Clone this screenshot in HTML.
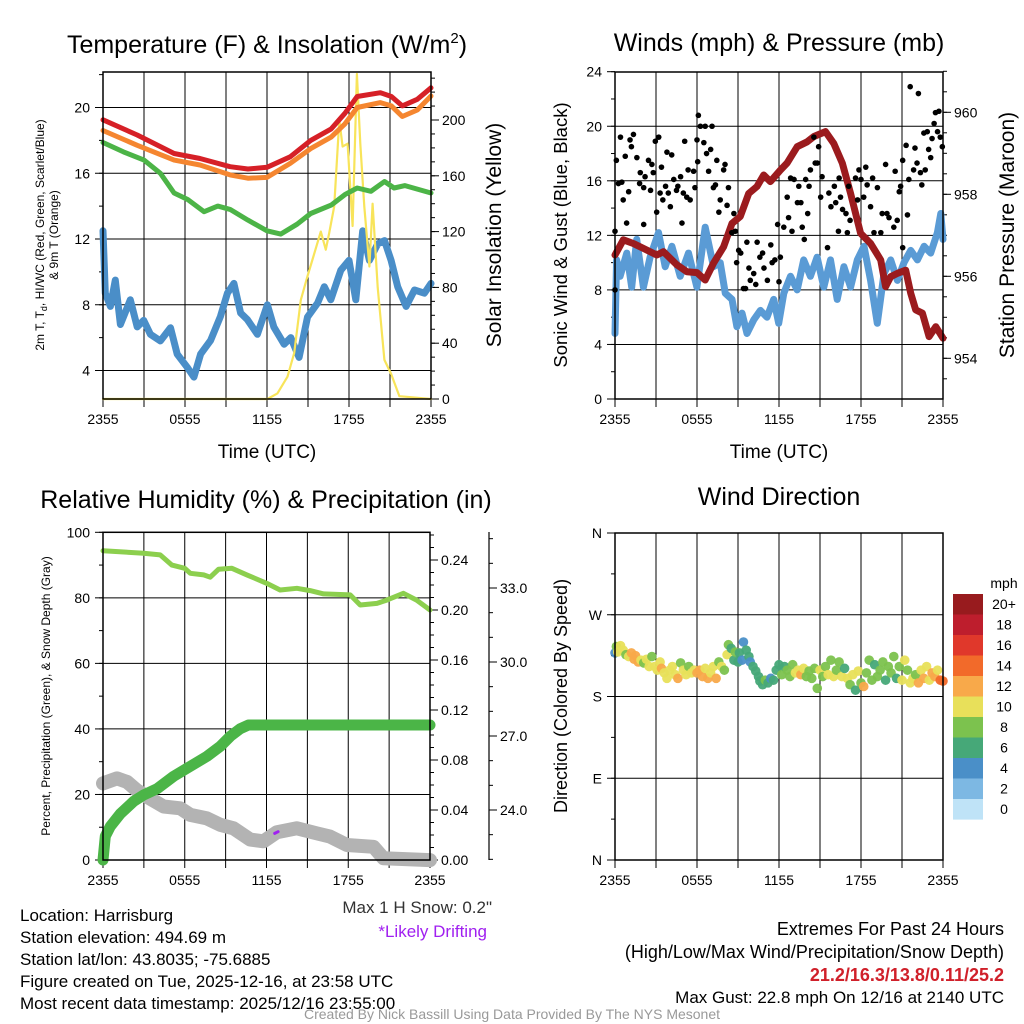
<!DOCTYPE html>
<html><head><meta charset="utf-8"><style>
html,body{margin:0;padding:0;background:#fff;}
svg{display:block;font-family:"Liberation Sans",sans-serif;}
</style></head><body>
<svg id="s" width="1024" height="1024" viewBox="0 0 1024 1024"></svg>
<script>
// ---------- DATA ----------
const xTickLabels = ["2355","0555","1155","1755","2355"];
// Temperature panel
const redHours = [0,2.5,5.2,7.1,9.3,10.6,12.0,13.7,15.2,16.7,17.7,18.6,20.3,21.1,21.9,23.0,24];
const redTemp = [19.25,18.33,17.2,16.9,16.4,16.26,16.36,17.0,18.0,18.7,19.65,20.67,20.9,20.67,20.1,20.5,21.2];
const orangeTemp = [18.6,17.7,16.8,16.5,15.9,15.7,15.75,16.6,17.5,18.2,19.0,20.0,20.3,20.1,19.45,19.85,20.7];
const greenHours = [0,1.5,3.0,4.2,5.2,6.2,7.4,8.4,9.3,10.6,12.0,13.0,14.2,15.2,16.7,17.7,18.6,19.6,20.6,21.3,22.1,24];
const greenDew = [17.87,17.3,16.8,16.0,14.8,14.4,13.66,14.0,13.8,13.15,12.5,12.3,12.9,13.55,14.06,14.7,15.1,14.9,15.5,15.1,15.25,14.8];
const blueHours = [0,0.17,0.54,0.9,1.27,2.0,2.5,2.98,3.47,4.2,4.94,5.43,6.16,6.65,7.14,7.87,8.6,9.1,9.58,10.07,10.56,11.3,12.03,12.5,13.25,13.74,14.35,14.96,15.7,16.19,16.67,17.4,18.0,18.5,19.0,19.49,20.1,20.6,21.08,21.56,22.18,22.79,23.52,24];
const blueWindChill = [12.5,8.7,7.9,9.5,6.8,8.3,6.65,7.05,6.2,5.8,6.6,5.0,4.2,3.6,5.0,5.83,7.3,8.7,9.3,7.5,7.1,6.2,8.0,6.65,5.6,6.0,4.8,7.25,8.1,9.1,8.3,10.1,10.7,8.3,12.5,10.7,11.7,11.9,10.7,9.1,7.9,8.9,8.7,9.3];
const solarHours = [0,12.03,12.76,13.5,13.99,14.47,14.96,15.33,15.94,16.3,16.55,16.92,17.29,17.53,17.9,18.26,18.58,18.83,19.12,19.49,19.73,20.1,20.59,21.08,21.69,24];
const solarVals = [0,0,4,16,33,71,88,100,120,107,119,138,200,181,183,124,233,183,138,95,140,80,28,18,2,0];
// Winds panel
const windHours = [0,0.12,0.37,0.86,1.22,1.59,2.08,2.57,3.18,3.67,4.16,4.77,5.38,5.99,6.6,7.21,7.7,8.07,8.56,8.92,9.29,9.66,10.15,10.64,11.12,11.61,11.98,12.35,12.84,13.33,13.81,14.3,14.79,15.28,15.77,16.26,16.75,17.24,17.73,18.22,18.7,19.19,19.68,20.17,20.66,21.15,21.64,22.13,22.62,23.1,23.59,23.84,24];
const windSpeed = [4.8,10.2,9.0,10.7,8.2,11.7,8.2,10.4,12.2,9.7,11.2,9.0,10.7,8.2,12.6,9.7,10.0,7.75,7.3,5.3,6.3,4.8,5.8,6.5,6.0,7.3,5.55,7.75,9.0,8.0,10.2,9.0,10.4,8.2,10.2,7.3,9.7,8.2,10.2,11.2,8.7,5.55,9.2,10.2,8.7,10.0,10.9,10.2,11.2,10.7,12.2,13.6,11.7];
const gustHours = [0,0,0.1,0.25,0.4,0.5,0.6,0.75,0.85,1,1.1,1.2,1.35,1.6,1.8,1.85,2.1,2.1,2.2,2.45,2.6,2.7,2.8,2.95,3.05,3.2,3.3,3.4,3.5,3.7,3.8,3.9,4.05,4.15,4.3,4.5,4.6,4.8,4.9,5.0,5.1,5.25,5.35,5.5,5.75,5.85,6,6.05,6.1,6.25,6.5,6.6,6.7,6.85,7,7.1,7.2,7.35,7.45,7.6,7.7,7.95,8.05,8.2,8.3,8.55,8.7,8.8,8.9,9.05,9.2,9.4,9.55,9.65,9.8,9.9,10.15,10.3,10.4,10.6,10.8,10.9,11.15,11.4,11.5,11.7,11.9,12.0,12.1,12.35,12.6,12.7,12.85,12.95,13.1,13.35,13.45,13.6,13.7,13.85,13.95,14.1,14.2,14.3,14.55,14.65,14.8,14.9,15.05,15.15,15.55,15.65,15.8,16.05,16.15,16.35,16.4,16.5,16.65,16.9,17.0,17.1,17.2,17.6,17.75,17.85,18.0,18.2,18.35,18.45,18.7,18.85,18.95,19.2,19.45,19.55,19.8,19.9,20.05,20.4,20.5,20.65,20.8,20.9,21.05,21.05,21.3,21.4,21.5,21.6,21.85,21.95,22.1,22.2,22.35,22.45,22.6,22.7,22.85,22.95,23.1,23.2,23.35,23.45,23.6,23.7,23.8,23.95];
const gustSpeed = [8.0,12.3,17.5,15.8,19.2,15.9,14.6,17.8,12.9,15.2,19.0,18.5,19.4,17.7,15.8,16.6,15.5,12.8,16.3,17.5,15.3,17.2,16.6,18.9,13.7,19.2,15.1,17.0,14.6,15.6,18.1,15.1,14.1,17.9,16.1,15.3,15.6,16.3,12.9,15.1,18.9,14.8,16.8,14.6,16.7,15.5,19.0,17.4,20.8,20.0,18.8,20.0,18.0,16.7,18.3,20.0,15.5,15.7,17.5,13.7,14.6,16.8,17.2,14.2,15.5,12.2,13.6,12.3,10.0,10.9,10.7,8.1,8.1,11.5,9.6,8.7,9.2,8.4,11.5,10.4,10.7,9.6,8.7,11.3,10.0,10.2,12.8,8.6,10.4,12.6,14.8,13.3,16.2,12.3,16.1,14.4,15.6,14.4,12.6,11.7,16.1,13.6,15.6,16.8,19.2,17.3,17.3,18.5,14.8,16.3,11.1,15.1,14.1,15.6,14.4,12.3,16.2,14.8,13.9,13.6,12.2,15.6,13.1,16.2,14.6,16.8,16.1,14.8,17.0,15.7,14.1,16.2,12.2,15.5,12.2,13.6,17.2,13.6,13.3,12.6,16.7,13.1,15.2,15.6,17.5,11.1,18.6,13.5,16.1,22.9,16.8,18.4,17.3,22.4,16.6,15.7,19.5,16.8,19.6,18.3,17.7,19.1,20.2,21.0,19.6,21.1,19.2,18.5];
const presHours = [0,0.61,1.34,2.08,3.06,3.55,4.52,5.26,5.99,6.6,7.21,7.95,8.56,9.17,9.78,10.39,10.88,11.37,12.1,12.59,13.33,14.06,14.55,15.4,16.01,16.63,17.24,17.97,18.7,19.44,19.8,20.17,20.66,21.27,21.64,22.0,22.49,22.98,23.47,24];
const presVals = [956.52,956.89,956.8,956.68,956.52,956.6,956.28,956.11,956.09,955.91,956.32,956.72,957.29,957.46,958.02,958.19,958.47,958.31,958.59,958.76,959.16,959.28,959.41,959.53,959.24,958.76,958.02,957.05,956.8,956.4,955.75,955.99,956.07,956.15,955.59,955.18,955.1,954.53,954.77,954.49];
// RH / precip / snow panel
const rhHours = [0,2.98,4.2,5.06,6.0,6.41,7.39,7.87,8.48,9.46,10.56,12.03,13.0,14.23,15.2,16.19,18.14,18.88,20.1,20.83,22.05,23.02,24];
const rhVals = [94.4,93.6,93.1,90,89,87.5,87,86.3,88.7,89,87,84.4,82.4,82.9,82.2,81.2,80.9,77.8,78.3,79.3,81.4,79.3,76.3];
const precipHours = [0,0.17,0.54,1.27,2.25,2.98,3.96,5.18,6.41,7.63,8.61,9.34,10.07,10.68,24];
const precipVals = [0,0.019,0.027,0.037,0.047,0.052,0.057,0.067,0.075,0.083,0.091,0.099,0.105,0.108,0.108];
const snowHours = [0,1.03,1.76,2.49,3.47,4.45,5.67,6.41,7.63,8.61,9.58,10.8,11.78,12.76,14.23,15.7,16.67,17.9,19.85,20.59,24];
const snowVals = [25.08,25.28,25.14,24.8,24.46,24.14,24.07,23.8,23.66,23.4,23.26,22.8,22.73,23.1,23.26,23.05,22.92,22.58,22.51,22.04,21.97];
const driftHours = [12.6,12.85];
const driftVals = [23.05,23.12];
// Wind direction panel
const dirHours = [0,0.1,0.2,0.4,0.6,0.8,1.0,1.2,1.4,1.5,1.7,1.9,2.1,2.3,2.5,2.7,2.9,3.1,3.3,3.4,3.6,3.8,4.0,4.2,4.4,4.6,4.8,5.0,5.2,5.4,5.6,5.8,6.0,6.2,6.4,6.6,6.8,7.0,7.2,7.4,7.6,7.8,8.0,8.2,8.3,8.5,8.7,8.8,9.0,9.1,9.3,9.4,9.6,9.8,9.9,10.1,10.3,10.5,10.6,10.8,11.0,11.2,11.4,11.6,11.8,12.0,12.2,12.4,12.6,12.8,13.0,13.2,13.4,13.6,13.8,14.0,14.2,14.4,14.6,14.8,15.0,15.2,15.4,15.6,15.8,16.0,16.2,16.4,16.6,16.8,17.0,17.2,17.4,17.6,17.8,18.0,18.2,18.4,18.6,18.8,19.0,19.2,19.4,19.6,19.8,20.0,20.2,20.4,20.6,20.8,21.0,21.2,21.4,21.6,21.8,22.0,22.2,22.4,22.6,22.8,23.0,23.2,23.4,23.6,23.8,24.0];
const dirDeg = [228,235,229,236,231,226,224,228,221,225,218,220,217,221,213,224,213,209,218,211,206,200,209,213,204,200,217,209,204,213,206,209,206,209,202,211,200,206,213,200,218,213,209,226,237,233,220,229,218,228,220,240,231,224,218,213,208,202,197,193,198,195,200,198,209,215,204,213,209,202,215,206,209,204,211,202,208,200,211,189,209,202,213,204,220,202,209,218,202,211,200,193,204,187,208,195,191,206,220,198,215,202,209,218,198,213,206,224,200,213,198,220,209,195,200,204,195,209,200,213,198,206,202,209,198,197];
const dirSpeed = [4,9,10,10,10,9,10,12,12,13,12,10,9,10,10,8,10,10,11,12,10,10,10,11,10,12,8,10,10,9,10,10,12,12,13,11,12,11,10,12,8,10,8,10,8,7,7,8,7,7,4,4,6,6,5,6,6,6,7,6,8,6,5,7,7,7,9,7,9,9,8,10,10,12,10,9,9,9,8,8,10,9,8,10,8,10,8,8,10,6,10,8,10,7,10,8,13,9,8,8,7,8,9,8,7,8,8,8,7,9,10,10,9,10,11,9,12,10,12,10,11,12,13,10,15,14];
const cbarLabels = ["20+","18","16","14","12","10","8","6","4","2","0"];
const cbarColors = ["#981b1e","#be1e2d","#e0382b","#f26a2a","#f8a94a","#e8e05a","#7cc24e","#46a878","#4a8fc8","#7db8e3","#bfe3f7"];

// ---------- HELPERS ----------
const NS = "http://www.w3.org/2000/svg";
const svg = document.getElementById("s");
function mk(tag, attrs, name, parent, inter) {
  const el = document.createElementNS(NS, tag);
  for (const k in attrs) el.setAttribute(k, attrs[k]);
  
  
  (parent || svg).appendChild(el);
  return el;
}
function txt(x, y, s, size, anchor, name, extra, parent) {
  const a = Object.assign({x: x, y: y, "font-size": size, "text-anchor": anchor || "middle", fill: "#000"}, extra || {});
  const t = mk("text", a, name, parent);
  t.textContent = s;
  return t;
}
function linScale(d0, d1, r0, r1) { return v => r0 + (v - d0) * (r1 - r0) / (d1 - d0); }
function pathFrom(xs, ys, fx, fy) {
  return xs.map((h, i) => (i ? "L" : "M") + fx(h).toFixed(1) + " " + fy(ys[i]).toFixed(1)).join(" ");
}
function frame(P, name) {
  const g = mk("g", {}, name);
  for (let h = 3; h < 24; h += 3) {
    mk("line", {x1: P.x(h), x2: P.x(h), y1: P.y0, y2: P.y1, stroke: "#000", "stroke-width": 1}, "x-gridline", g);
  }
  for (let h = 0; h <= 24; h += 3) {
    mk("line", {x1: P.x(h), x2: P.x(h), y1: P.y1, y2: P.y1 + 8, stroke: "#000", "stroke-width": 1}, "x-tick", g);
  }
  xTickLabels.forEach((l, i) => txt(P.x(i * 6), P.y1 + 25, l, 14, "middle", "x-tick-label", {}, g));
  return g;
}
function box(P, name) {
  mk("rect", {x: P.x0, y: P.y0, width: P.x1 - P.x0, height: P.y1 - P.y0, fill: "none", stroke: "#000", "stroke-width": 1.5}, name);
}
function yAxis(P, xPos, side, ticks, minor, fy, fmt, grid, name) {
  const g = mk("g", {}, name);
  const dir = side === "left" ? -1 : 1;
  minor.forEach(v => mk("line", {x1: xPos, x2: xPos + dir * 4, y1: fy(v), y2: fy(v), stroke: "#000"}, "minor-tick", g));
  ticks.forEach(v => {
    mk("line", {x1: xPos, x2: xPos + dir * 8, y1: fy(v), y2: fy(v), stroke: "#000"}, "major-tick", g);
    if (grid && v > grid[0] && v < grid[1]) mk("line", {x1: P.x0, x2: P.x1, y1: fy(v), y2: fy(v), stroke: "#000"}, "y-gridline", g);
    txt(side === "left" ? xPos - 13 : xPos + 11, fy(v) + 5, fmt(v), 14, side === "left" ? "end" : "start", "y-tick-label", {}, g);
  });
}
function range(a, b, s) { const r = []; for (let v = a; v <= b + 1e-9; v += s) r.push(+v.toFixed(4)); return r; }

// ---------- PANEL 1: Temperature ----------
(function () {
  const P = {x0: 103, x1: 431, y0: 72, y1: 399};
  P.x = linScale(0, 24, P.x0, P.x1);
  const yL = linScale(4, 20, 370.5, 107.5);
  const yR = linScale(0, 200, 399, 120);
  frame(P, "temperature-grid");
  yAxis(P, P.x0, "left", range(4, 20, 4), range(4, 22, 2), yL, v => v, [2, 23], "temperature-left-axis");
  yAxis(P, P.x1, "right", range(0, 200, 40), range(0, 230, 10), yR, v => v, null, "insolation-right-axis");
  const g = mk("g", {"stroke-linejoin": "round", "stroke-linecap": "round", fill: "none"}, "temperature-series");
  mk("path", {d: pathFrom(blueHours, blueWindChill, P.x, yL), stroke: "#4a8ec8", "stroke-width": 7}, "windchill-line", g);
  mk("path", {d: pathFrom(solarHours, solarVals, P.x, yR), stroke: "#f8e45a", "stroke-width": 2.2}, "insolation-line", g);
  mk("path", {d: pathFrom(greenHours, greenDew, P.x, yL), stroke: "#4cb447", "stroke-width": 5}, "dewpoint-line", g);
  mk("path", {d: pathFrom(redHours, orangeTemp, P.x, yL), stroke: "#f58630", "stroke-width": 5}, "9m-temp-line", g);
  mk("path", {d: pathFrom(redHours, redTemp, P.x, yL), stroke: "#d62027", "stroke-width": 5}, "2m-temp-line", g);
  box(P, "temperature-plot-frame");
  txt(267, 53, "Temperature (F) & Insolation (W/m", 25, "middle", "temperature-title").innerHTML = 'Temperature (F) &amp; Insolation (W/m<tspan font-size="15" dy="-10">2</tspan><tspan dy="10">)</tspan>';
  txt(267, 458, "Time (UTC)", 19, "middle", "temperature-x-title");
  txt(0, 0, "2m T, T", 12, "middle", "temperature-y-title", {transform: "translate(44,235) rotate(-90)"}).innerHTML = '2m T, T<tspan font-size="9" dy="3">d</tspan><tspan dy="-3">, HI/WC (Red, Green, Scarlet/Blue)</tspan>';
  txt(0, 0, "& 9m T (Orange)", 12, "middle", "temperature-y-title-2", {transform: "translate(58,235) rotate(-90)"});
  txt(0, 0, "Solar Insolation (Yellow)", 21, "middle", "insolation-y-title", {transform: "translate(501,235) rotate(-90)"});
})();

// ---------- PANEL 2: Winds ----------
(function () {
  const P = {x0: 615, x1: 943, y0: 72, y1: 399};
  P.x = linScale(0, 24, P.x0, P.x1);
  const yL = linScale(0, 24, 399, 71.7);
  const yR = linScale(954, 960, 358.3, 112.3);
  frame(P, "winds-grid");
  yAxis(P, P.x0, "left", range(0, 24, 4), range(0, 24, 2), yL, v => v, [0, 24], "wind-left-axis");
  yAxis(P, P.x1, "right", range(954, 960, 2), range(953.5, 961, 0.5), yR, v => v, null, "pressure-right-axis");
  const g = mk("g", {"stroke-linejoin": "round", "stroke-linecap": "round", fill: "none"}, "winds-series");
  mk("path", {d: pathFrom(windHours, windSpeed, P.x, yL), stroke: "#5a9bd5", "stroke-width": 7}, "sonic-wind-line", g);
  const gd = mk("g", {fill: "#000"}, "gust-points");
  gustHours.forEach((h, i) => {
    mk("circle", {cx: P.x(h), cy: yL(gustSpeed[i]), r: 2.8}, "gust-point", gd);
  });
  mk("path", {d: pathFrom(presHours, presVals, P.x, yR), stroke: "#9b1b1e", "stroke-width": 7}, "pressure-line", g);
  box(P, "winds-plot-frame");
  txt(779, 51, "Winds (mph) & Pressure (mb)", 25, "middle", "winds-title");
  txt(779, 458, "Time (UTC)", 19, "middle", "winds-x-title");
  txt(0, 0, "Sonic Wind & Gust (Blue, Black)", 18.5, "middle", "wind-y-title", {transform: "translate(567,235) rotate(-90)"});
  txt(0, 0, "Station Pressure (Maroon)", 21, "middle", "pressure-y-title", {transform: "translate(1014,235) rotate(-90)"});
})();

// ---------- PANEL 3: RH / Precip ----------
(function () {
  const P = {x0: 103, x1: 430, y0: 532.3, y1: 860};
  P.x = linScale(0, 24, P.x0, P.x1);
  const yL = linScale(0, 100, 860, 532.3);
  const yP = linScale(0, 0.24, 860, 560);
  const yS = linScale(24, 33, 810, 588);
  frame(P, "rh-grid");
  yAxis(P, P.x0, "left", range(0, 100, 20), range(0, 100, 10), yL, v => v, [0, 100], "rh-left-axis");
  yAxis(P, P.x1, "right", range(0, 0.24, 0.04), range(0, 0.26, 0.01), yP, v => v.toFixed(2), null, "precip-right-axis");
  const gs = mk("g", {}, "snow-depth-axis");
  mk("line", {x1: 489, x2: 489, y1: 532, y2: 860, stroke: "#000", "stroke-width": 1.2}, "snow-axis-line", gs);
  range(22, 35, 1).forEach(v => mk("line", {x1: 489, x2: 489 + (v % 3 === 0 ? 8 : 4), y1: yS(v), y2: yS(v), stroke: "#000"}, "snow-tick", gs));
  [24, 27, 30, 33].forEach(v => txt(500, yS(v) + 5, v.toFixed(1), 14, "start", "snow-tick-label", {}, gs));
  const g = mk("g", {"stroke-linejoin": "round", "stroke-linecap": "round", fill: "none"}, "rh-series");
  mk("path", {d: pathFrom(snowHours, snowVals, P.x, yS), stroke: "#b3b3b3", "stroke-width": 14}, "snow-depth-line", g);
  mk("path", {d: pathFrom(driftHours, driftVals, P.x, yS), stroke: "#a020f0", "stroke-width": 3}, "drifting-marker", g);
  mk("path", {d: pathFrom(precipHours, precipVals, P.x, yP), stroke: "#4bb547", "stroke-width": 11}, "precip-line", g);
  mk("path", {d: pathFrom(rhHours, rhVals, P.x, yL), stroke: "#8ccf4e", "stroke-width": 5}, "rh-line", g);
  box(P, "rh-plot-frame");
  txt(266, 508, "Relative Humidity (%) & Precipitation (in)", 25, "middle", "rh-title");
  txt(0, 0, "Percent, Precipitation (Green), & Snow Depth (Gray)", 12, "middle", "rh-y-title", {transform: "translate(50,696) rotate(-90)"});
})();

// ---------- PANEL 4: Wind Direction ----------
(function () {
  const P = {x0: 615, x1: 943, y0: 533, y1: 860};
  P.x = linScale(0, 24, P.x0, P.x1);
  const yD = linScale(0, 360, 860, 533);
  frame(P, "direction-grid");
  const labs = ["N", "E", "S", "W", "N"];
  yAxis(P, P.x0, "left", [0, 90, 180, 270, 360], range(0, 360, 45), yD, v => labs[v / 90], [0, 360], "direction-left-axis");
  const g = mk("g", {}, "direction-points");
  function col(s) { const idx = s >= 20 ? 0 : 10 - Math.floor(s / 2); return cbarColors[Math.max(0, Math.min(10, idx))]; }
  dirHours.forEach((h, i) => {
    mk("circle", {cx: P.x(h), cy: yD(dirDeg[i]), r: 4.8, fill: col(dirSpeed[i]), opacity: 0.95}, "direction-point", g);
  });
  box(P, "direction-plot-frame");
  txt(779, 505, "Wind Direction", 25, "middle", "direction-title");
  txt(0, 0, "Direction (Colored By Speed)", 18, "middle", "direction-y-title", {transform: "translate(567,696) rotate(-90)"});
  const cb = mk("g", {}, "speed-colorbar");
  txt(1004, 588, "mph", 14, "middle", "colorbar-unit", {}, cb);
  cbarLabels.forEach((l, i) => {
    mk("rect", {x: 953, y: 594 + i * 20.5, width: 30, height: 20.6, fill: cbarColors[i]}, "colorbar-bin", cb);
    txt(1004, 594 + i * 20.5 + 15, l, 14, "middle", "colorbar-label", {}, cb);
  });
})();

// ---------- TEXT BLOCKS ----------
const info = ["Location: Harrisburg", "Station elevation: 494.69 m", "Station lat/lon: 43.8035; -75.6885", "Figure created on Tue, 2025-12-16, at 23:58 UTC", "Most recent data timestamp: 2025/12/16 23:55:00"];
info.forEach((s, i) => txt(20, 921 + i * 22, s, 17, "start", "station-info-line"));
txt(492, 913, "Max 1 H Snow: 0.2\"", 17, "end", "max-snow-note", {fill: "#333"});
txt(487, 937, "*Likely Drifting", 17, "end", "drifting-note", {fill: "#a020f0"});
txt(1004, 935, "Extremes For Past 24 Hours", 18, "end", "extremes-title");
txt(1004, 958, "(High/Low/Max Wind/Precipitation/Snow Depth)", 18, "end", "extremes-subtitle");
txt(1004, 981, "21.2/16.3/13.8/0.11/25.2", 18, "end", "extremes-values", {fill: "#d0202a", "font-weight": "bold"});
txt(1004, 1003, "Max Gust: 22.8 mph On 12/16 at 2140 UTC", 17, "end", "max-gust-note");
txt(512, 1019, "Created By Nick Bassill Using Data Provided By The NYS Mesonet", 14, "middle", "credit-footer", {fill: "#999"});
</script>
</body></html>
